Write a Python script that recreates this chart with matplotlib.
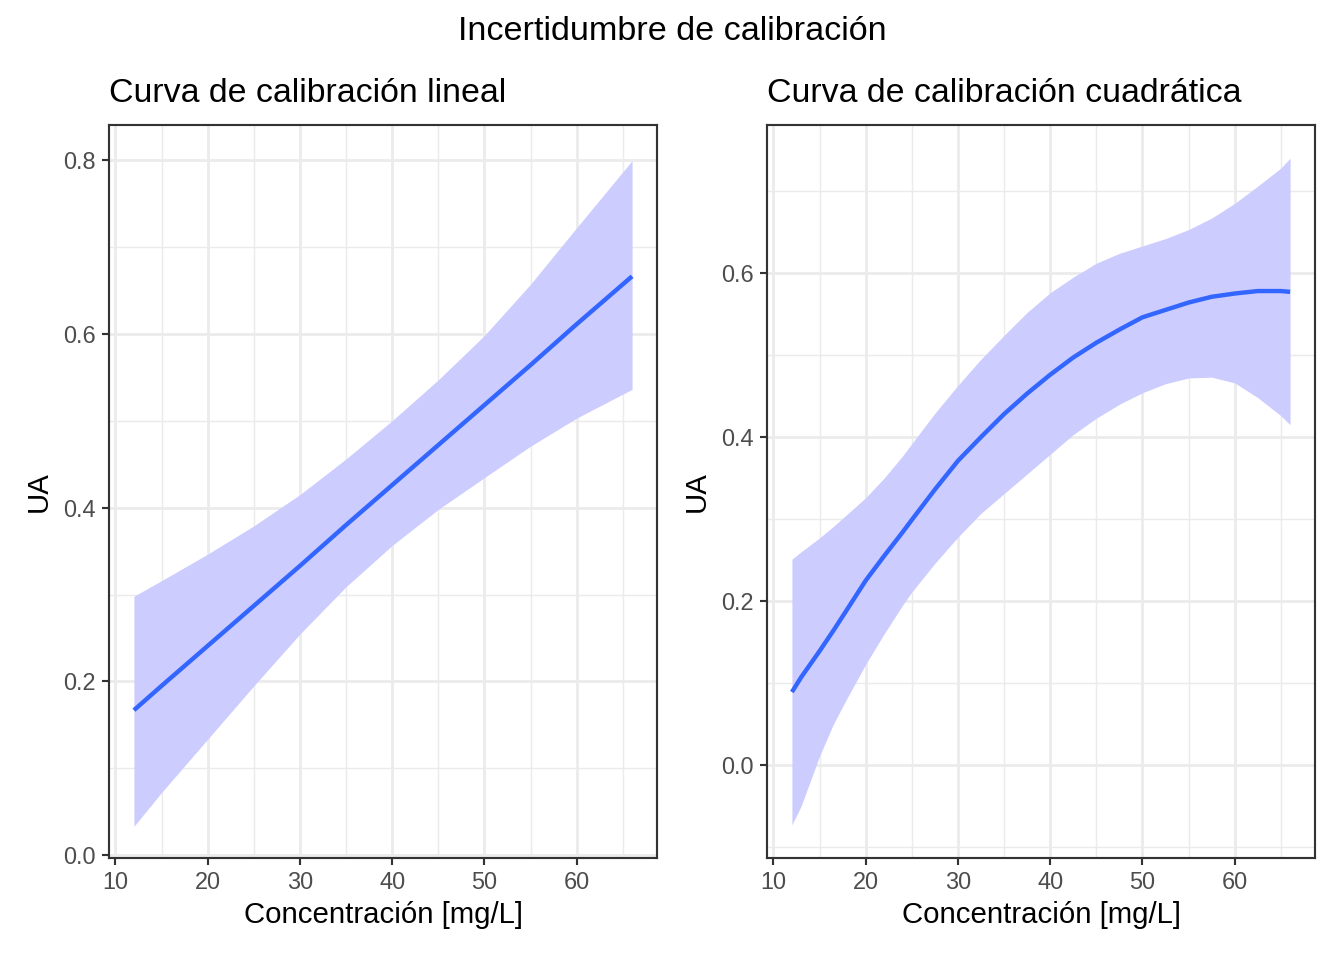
import matplotlib
matplotlib.use("Agg")
import matplotlib.pyplot as plt
from matplotlib.ticker import MultipleLocator

plt.rcParams['font.family'] = ['Liberation Sans', 'DejaVu Sans']

# ---- data: linear calibration ----
lin_x = [12, 15, 20, 25, 30, 35, 40, 45, 50, 55, 60, 66]
lin_fit = [0.167, 0.195, 0.241, 0.287, 0.333, 0.380, 0.426, 0.472, 0.518, 0.564, 0.611, 0.666]
lin_upper = [0.298, 0.316, 0.3465, 0.379, 0.415, 0.456, 0.500, 0.547, 0.598, 0.657, 0.722, 0.799]
lin_lower = [0.0334, 0.0724, 0.1337, 0.195, 0.2546, 0.309, 0.3565, 0.398, 0.4345, 0.4707, 0.503, 0.536]

# ---- data: quadratic calibration ----
quad_x = [12, 13, 15, 16.5, 18, 20, 22, 24, 25, 27.5, 30, 32.5, 35, 37.5, 40,
          42.5, 45, 47.5, 50, 52.5, 55, 57.5, 60, 62.5, 65, 66]
quad_fit = [0.089, 0.107, 0.139, 0.164, 0.190, 0.225, 0.255, 0.284, 0.299, 0.336,
            0.371, 0.400, 0.428, 0.453, 0.476, 0.497, 0.515, 0.531, 0.546, 0.555,
            0.564, 0.571, 0.575, 0.578, 0.578, 0.577]
quad_upper = [0.251, 0.260, 0.277, 0.291, 0.306, 0.326, 0.350, 0.377, 0.392, 0.429,
              0.463, 0.495, 0.524, 0.552, 0.576, 0.595, 0.612, 0.624, 0.633, 0.642,
              0.653, 0.667, 0.685, 0.706, 0.728, 0.740]
quad_lower = [-0.073, -0.050, 0.011, 0.050, 0.082, 0.123, 0.160, 0.195, 0.211, 0.246,
              0.278, 0.307, 0.331, 0.355, 0.379, 0.403, 0.423, 0.440, 0.454, 0.465,
              0.472, 0.473, 0.466, 0.448, 0.426, 0.415]

main_title = "Incertidumbre de calibración"
titles = ["Curva de calibración lineal", "Curva de calibración cuadrática"]
xlabel = "Concentración [mg/L]"
ylabel = "UA"

DPI = 192
fig = plt.figure(figsize=(1344 / DPI, 960 / DPI), dpi=DPI)
fig.patch.set_facecolor("white")

W, H = 1344, 960
def ax_rect(l, r, t, b):
    return [l / W, 1 - b / H, (r - l) / W, (b - t) / H]

ax1 = fig.add_axes(ax_rect(109, 657, 125, 858))
ax2 = fig.add_axes(ax_rect(767, 1315, 125, 858))

panels = [
    (ax1, lin_x, lin_fit, lin_upper, lin_lower, (9.3, 68.7), (-0.003, 0.840),
     [0.0, 0.2, 0.4, 0.6, 0.8]),
    (ax2, quad_x, quad_fit, quad_upper, quad_lower, (9.3, 68.7), (-0.1134, 0.7805),
     [0.0, 0.2, 0.4, 0.6]),
]

for i, (ax, x, fit, up, lo, xl, yl, yt) in enumerate(panels):
    ax.set_facecolor("white")
    ax.fill_between(x, lo, up, color="#CCCCFF", linewidth=0, zorder=2)
    ax.plot(x, fit, color="#3366FF", linewidth=1.65, solid_capstyle="butt",
            solid_joinstyle="round", zorder=3)
    ax.set_xlim(*xl)
    ax.set_ylim(*yl)
    ax.set_xticks([10, 20, 30, 40, 50, 60])
    ax.set_yticks(yt)
    ax.set_yticklabels([f"{v:.1f}" for v in yt])
    ax.xaxis.set_minor_locator(MultipleLocator(5))
    ax.yaxis.set_minor_locator(MultipleLocator(0.1))
    ax.grid(which="major", color="#EBEBEB", linewidth=1.05, zorder=0)
    ax.grid(which="minor", color="#EBEBEB", linewidth=0.55, zorder=0)
    ax.set_axisbelow(True)
    for s in ax.spines.values():
        s.set_color("#333333")
        s.set_linewidth(0.8)
    ax.tick_params(which="major", length=2.75, width=0.8, color="#333333",
                   labelcolor="#4D4D4D", labelsize=8.8, pad=2.2)
    ax.tick_params(which="minor", length=0)
    ax.set_xlabel(xlabel, fontsize=11, color="black", labelpad=2.5)
    ax.set_ylabel(ylabel, fontsize=11, color="black", labelpad=4)
    ax.set_title(titles[i], fontsize=12.7, loc="left", color="black", pad=8.5)

fig.text(0.5, 1 - 31 / H, main_title, ha="center", va="center", fontsize=12.8, color="black")

fig.savefig("out.png", dpi=DPI, facecolor="white")
